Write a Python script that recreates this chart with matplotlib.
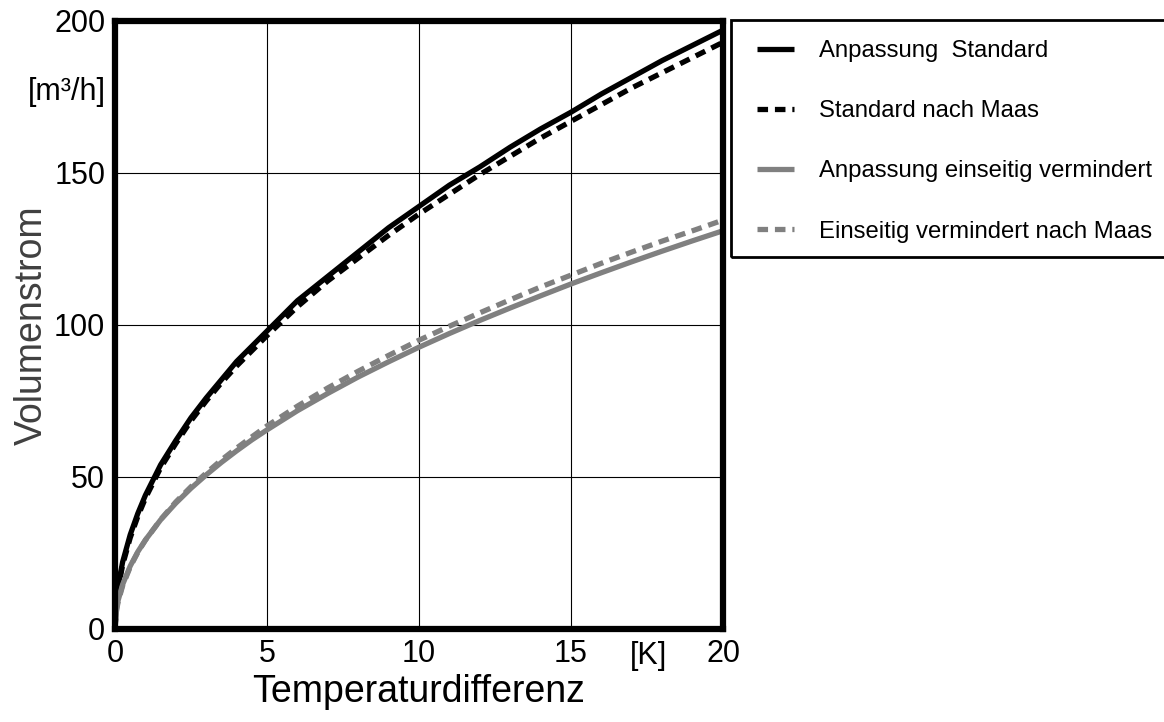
import numpy as np
import matplotlib.pyplot as plt
from matplotlib.patches import Rectangle

plt.rcParams['font.family'] = ['Liberation Sans', 'DejaVu Sans']

# values
dT = [0, 0.05, 0.1, 0.25, 0.5, 0.75, 1, 1.5, 2, 2.5, 3, 3.5, 4, 4.5, 5,
      6, 7, 8, 9, 10, 11, 12, 13, 14, 15, 16, 17, 18, 19, 20]
std_fit = [0, 10, 14, 22, 31, 38, 44, 54, 62, 69.5, 76, 82, 88, 93, 98,
           108, 116, 124, 132, 139, 146, 152, 158.5, 164.5, 170, 176, 181.5, 187, 192, 197]
std_maas = [0, 9, 13, 21, 30, 37, 43, 53, 61, 68.5, 75, 81, 86.5, 91.5, 96.5,
            106, 114.5, 122, 129.5, 136.5, 143, 149.5, 155.5, 161.5, 167, 172.5, 178, 183, 188, 193]
red_fit = [0, 6.6, 9.3, 14.6, 20.7, 25.4, 29.3, 35.9, 41.4, 46.3, 50.7, 54.8, 58.6, 62.2, 65.5,
           71.8, 77.5, 82.9, 87.9, 92.7, 97.2, 101.5, 105.6, 109.6, 113.5, 117.2, 120.8, 124.3, 127.7, 131]
red_maas = [0, 6, 8.8, 14.2, 20.4, 25.2, 29.2, 36, 41.8, 46.8, 51.3, 55.6, 59.5, 63.2, 66.8,
            73.3, 79.3, 84.8, 90, 95, 99.6, 104, 108.3, 112.5, 116.4, 120.3, 124, 127.6, 131, 134.5]

labels = ['Anpassung  Standard', 'Standard nach Maas',
          'Anpassung einseitig vermindert', 'Einseitig vermindert nach Maas']
gray = '#808080'

W, H = 1164, 722
fig = plt.figure(figsize=(W / 100, H / 100), dpi=100)
ax = fig.add_axes([115 / W, 1 - 629 / H, 608 / W, 608 / H])

lw = 3.8
dash = (0, (2.0, 1.3))
l1, = ax.plot(dT, std_fit, color='black', lw=lw, solid_capstyle='butt')
l2, = ax.plot(dT, std_maas, color='black', lw=lw, linestyle=dash)
l3, = ax.plot(dT, red_fit, color=gray, lw=lw, solid_capstyle='butt')
l4, = ax.plot(dT, red_maas, color=gray, lw=lw, linestyle=dash)

ax.set_xlim(0, 20)
ax.set_ylim(0, 200)
ax.set_xticks([0, 5, 10, 15, 20])
ax.set_yticks([0, 50, 100, 150, 200])
ax.grid(True, color='black', lw=0.8)
ax.tick_params(length=0, labelsize=22, pad=7)
for s in ax.spines.values():
    s.set_linewidth(4.5)

ax.set_xlabel('Temperaturdifferenz', fontsize=27)
ax.xaxis.label.set_va('baseline')
ax.xaxis.set_label_coords(0.5, (629 - 702) / 608)
ax.set_ylabel('Volumenstrom', fontsize=27, color='#404040')
ax.yaxis.label.set_va('baseline')
ax.yaxis.set_label_coords((42 - 115) / 608, 0.5)

fig.text(106 / W, 1 - 92 / H, '[m³/h]', fontsize=22, ha='right', va='center')
fig.text(648 / W, 1 - 656 / H, '[K]', fontsize=22, ha='center', va='center')

# legend box runs past the right edge of the picture
fig.add_artist(Rectangle((731 / W, 1 - 257 / H), (1200 - 731) / W, (257 - 20) / H,
                         transform=fig.transFigure, fill=False, lw=2,
                         edgecolor='black', clip_on=False))
fig.legend([l1, l2, l3, l4], labels, loc='upper left',
           bbox_to_anchor=(757 / W, 1 - 40 / H), fontsize=17.2,
           handlelength=1.55, handletextpad=1.05, labelspacing=1.6,
           borderpad=0, borderaxespad=0, frameon=False)

fig.savefig('out.png', dpi=100)
